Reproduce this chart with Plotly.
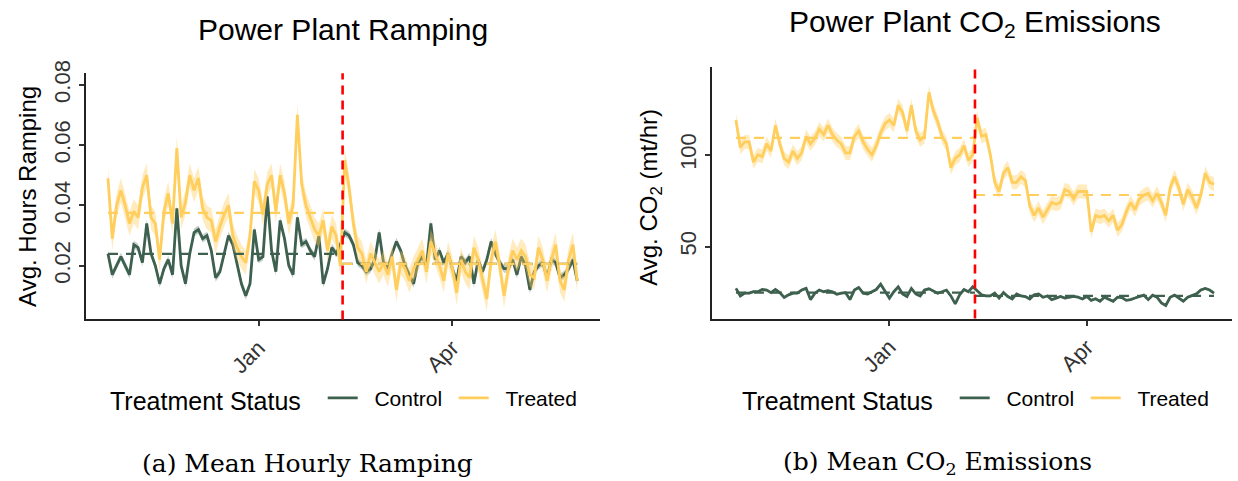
import pandas as pd
import plotly.graph_objects as go

# ---------------- data (2-day steps) ----------------
START_DATE = "2018-10-23"
N_POINTS = 110
TREATMENT_DATE = "2019-02-09"

ramp_treated = [
    0.049, 0.029, 0.040, 0.045, 0.040, 0.034, 0.038, 0.036, 0.046, 0.050,
    0.036, 0.034, 0.022, 0.038, 0.044, 0.034, 0.059, 0.036, 0.041, 0.050,
    0.045, 0.049, 0.039, 0.036, 0.035, 0.028, 0.033, 0.037, 0.040, 0.030,
    0.026, 0.023, 0.021, 0.030, 0.048, 0.045, 0.037, 0.047, 0.050, 0.038,
    0.050, 0.044, 0.034, 0.040, 0.070, 0.047, 0.040, 0.036, 0.032, 0.030,
    0.035, 0.025, 0.033, 0.030, 0.020, 0.055, 0.046, 0.034, 0.026, 0.024,
    0.018, 0.024, 0.021, 0.018, 0.021, 0.017, 0.023, 0.012, 0.021, 0.019,
    0.015, 0.019, 0.022, 0.025, 0.018, 0.028, 0.024, 0.020, 0.015, 0.024,
    0.019, 0.011, 0.022, 0.018, 0.016, 0.026, 0.022, 0.015, 0.009, 0.022,
    0.028, 0.020, 0.010, 0.019, 0.025, 0.022, 0.025, 0.023, 0.017, 0.016,
    0.026, 0.022, 0.015, 0.022, 0.027, 0.015, 0.012, 0.022, 0.027, 0.015,
]
ramp_control = [
    0.024, 0.017, 0.020, 0.023, 0.020, 0.017, 0.027, 0.026, 0.021, 0.034,
    0.024, 0.020, 0.014, 0.019, 0.022, 0.017, 0.039, 0.020, 0.014, 0.024,
    0.031, 0.032, 0.029, 0.030, 0.025, 0.016, 0.018, 0.024, 0.030, 0.027,
    0.020, 0.014, 0.010, 0.014, 0.032, 0.022, 0.023, 0.043, 0.025, 0.018,
    0.035, 0.029, 0.020, 0.017, 0.036, 0.027, 0.028, 0.025, 0.023, 0.030,
    0.014, 0.019, 0.026, 0.024, 0.027, 0.031, 0.030, 0.027, 0.021, 0.020,
    0.018, 0.019, 0.022, 0.031, 0.021, 0.019, 0.024, 0.028, 0.025, 0.020,
    0.017, 0.014, 0.021, 0.023, 0.020, 0.034, 0.022, 0.025, 0.021, 0.024,
    0.019, 0.015, 0.023, 0.021, 0.023, 0.014, 0.022, 0.018, 0.022, 0.028,
    0.024, 0.021, 0.019, 0.019, 0.022, 0.017, 0.023, 0.020, 0.012, 0.018,
    0.020, 0.021, 0.016, 0.022, 0.021, 0.016, 0.017, 0.019, 0.022, 0.015,
]
co2_treated = [
    119, 104, 107, 107, 96, 100, 99, 106, 102, 116,
    106, 98, 96, 102, 98, 101, 110, 106, 109, 114,
    111, 116, 111, 108, 106, 101, 101, 110, 113, 107,
    103, 100, 105, 112, 117, 119, 116, 127, 123, 113,
    127, 113, 108, 110, 134, 124, 118, 110, 106, 93,
    98, 100, 105, 97, 100, 120, 110, 111, 100, 85,
    80, 90, 93, 85, 85, 88, 86, 72, 67, 71,
    66, 70, 74, 73, 74, 81, 80, 76, 80, 80,
    80, 58, 67, 66, 67, 64, 67, 59, 62, 69,
    74, 70, 76, 78, 79, 75, 79, 74, 67, 82,
    88, 82, 73, 81, 77, 71, 78, 90, 85, 84,
]
co2_control = [
    27.2, 23.1, 24.6, 24.6, 25.4, 25.4, 26.6, 26.3, 24.9, 26.6,
    24.9, 22.3, 23.7, 24.6, 24.6, 26.3, 27.2, 21.1, 24.6, 26.3,
    25.4, 25.9, 25.4, 24.0, 24.6, 24.9, 21.1, 26.3, 27.7, 24.6,
    24.2, 25.4, 26.6, 29.5, 25.4, 21.9, 25.4, 28.1, 24.2, 22.8,
    27.2, 24.2, 23.1, 26.3, 27.0, 25.9, 24.6, 25.4, 26.3, 23.1,
    18.8, 23.7, 26.6, 25.4, 28.1, 25.9, 23.7, 23.1, 23.1, 24.6,
    21.9, 24.9, 22.8, 21.4, 24.2, 23.1, 22.8, 21.4, 23.7, 24.2,
    22.4, 23.1, 21.1, 21.9, 22.8, 21.9, 22.4, 22.8, 22.4, 21.4,
    22.8, 20.7, 21.6, 20.2, 22.4, 21.4, 20.2, 22.4, 22.2, 20.7,
    21.1, 22.0, 22.8, 23.5, 21.1, 23.5, 22.4, 19.3, 17.9, 22.4,
    23.5, 21.7, 20.2, 22.4, 23.5, 24.2, 26.3, 27.2, 26.3, 24.6,
]
# standard-error half widths of the ribbons
ramp_se = {"Control": 0.0013, "Treated": 0.0040}
co2_se = {"Control": 0.7, "Treated": 3.8}
# pre / post period means (dashed lines)
ramp_means = {"Control": (0.0239, 0.0206), "Treated": (0.0375, 0.0206)}
co2_means = {"Control": (24.9, 23.1), "Treated": (109.2, 78.1)}

x_tick_vals = ["2019-01-01", "2019-04-01"]
x_tick_text = ["Jan", "Apr"]
ramp_ticks = [0.02, 0.04, 0.06, 0.08]
co2_ticks = [50, 100]

# ---------------- styles ----------------
COL = {"Control": "#3E604E", "Treated": "#FFCE5C"}
BAND = {"Control": "rgba(62,96,78,0.30)", "Treated": "rgba(255,206,92,0.40)"}
SANS = "Liberation Sans, Arial, sans-serif"
SERIF = "DejaVu Serif, serif"
W, H = 1238, 481
PAD = "\u00a0\u00a0"

dates = pd.date_range(START_DATE, periods=N_POINTS, freq="2D")
end_date = dates[-1]

fig = go.Figure()


def add_panel(series, se, means, xa, ya, legend):
    for name in ["Control", "Treated"]:
        vals = series[name]
        up = [v + se[name] for v in vals]
        lo = [v - se[name] for v in vals]
        fig.add_trace(go.Scatter(
            x=list(dates) + list(dates[::-1]), y=up + lo[::-1],
            fill="toself", fillcolor=BAND[name], line=dict(width=0),
            showlegend=False, hoverinfo="skip", xaxis=xa, yaxis=ya))
        fig.add_trace(go.Scatter(
            x=dates, y=vals, mode="lines", name=PAD + name,
            line=dict(color=COL[name], width=2.8),
            legend=legend, xaxis=xa, yaxis=ya))
    for name in ["Control", "Treated"]:
        pre, post = means[name]
        fig.add_trace(go.Scatter(
            x=[dates[0], pd.Timestamp(TREATMENT_DATE)], y=[pre, pre], mode="lines",
            line=dict(color=COL[name], width=2.2, dash="10px,8px"),
            showlegend=False, hoverinfo="skip", xaxis=xa, yaxis=ya))
        fig.add_trace(go.Scatter(
            x=[pd.Timestamp(TREATMENT_DATE), end_date], y=[post, post], mode="lines",
            line=dict(color=COL[name], width=2.2, dash="10px,8px"),
            showlegend=False, hoverinfo="skip", xaxis=xa, yaxis=ya))


add_panel({"Control": ramp_control, "Treated": ramp_treated}, ramp_se, ramp_means,
          "x", "y", "legend")
add_panel({"Control": co2_control, "Treated": co2_treated}, co2_se, co2_means,
          "x2", "y2", "legend2")

for xr in ["x", "x2"]:
    fig.add_shape(type="line", xref=xr, yref=("y domain" if xr == "x" else "y2 domain"),
                  x0=TREATMENT_DATE, x1=TREATMENT_DATE, y0=0, y1=1,
                  line=dict(color="#FF0000", width=2.6, dash="9px,6px"))

axis_common = dict(showline=True, linecolor="#222", linewidth=2, ticks="outside",
                   ticklen=5, tickwidth=2, tickcolor="#333", showgrid=False,
                   zeroline=False, tickfont=dict(family=SANS, size=22, color="#333"))

legend_common = dict(orientation="h", y=1 - 397 / H, xanchor="left", yanchor="middle",
                     title=dict(text="Treatment Status&nbsp;&nbsp;",
                                font=dict(family=SANS, size=25, color="#000")),
                     font=dict(family=SANS, size=21, color="#000"),
                     bgcolor="rgba(0,0,0,0)", entrywidth=86, entrywidthmode="pixels")

fig.update_layout(
    width=W, height=H, margin=dict(l=0, r=0, t=0, b=0),
    paper_bgcolor="white", plot_bgcolor="white",
    xaxis=dict(domain=[86 / W, 600 / W], anchor="y", type="date",
               range=["2018-10-12 19:00", "2019-06-08 14:00"],
               tickvals=x_tick_vals, ticktext=x_tick_text, tickangle=-45, **axis_common),
    yaxis=dict(domain=[1 - 315 / H, 1 - 62 / H], anchor="x",
               range=[0.00216, 0.0838], tickvals=ramp_ticks,
               ticktext=[f"{v:.2f}" for v in ramp_ticks], tickangle=-90, **axis_common),
    xaxis2=dict(domain=[712 / W, 1232 / W], anchor="y2", type="date",
                range=["2018-10-12 02:00", "2019-06-06 05:00"],
                tickvals=x_tick_vals, ticktext=x_tick_text, tickangle=-45, **axis_common),
    yaxis2=dict(domain=[1 - 314 / H, 1 - 55 / H], anchor="x2",
                range=[10.8, 148.1], tickvals=co2_ticks,
                ticktext=[str(v) for v in co2_ticks], tickangle=-90, **axis_common),
    legend=dict(x=108 / W, **legend_common),
    legend2=dict(x=740 / W, **legend_common),
    showlegend=True,
)

ann = [
    dict(text="Power Plant Ramping", x=343 / W, y=1 - 17 / H, size=30, family=SANS, angle=0),
    dict(text="Power Plant CO<sub>2</sub> Emissions", x=975 / W, y=1 - 11 / H, size=30, family=SANS, angle=0),
    dict(text="Avg. Hours Ramping", x=28 / W, y=1 - 189 / H, size=24, family=SANS, angle=-90),
    dict(text="Avg. CO<sub>2</sub> (mt/hr)", x=651 / W, y=1 - 190 / H, size=24, family=SANS, angle=-90),
    dict(text="(a) Mean Hourly Ramping", x=307 / W, y=1 - 463 / H, size=25, family=SERIF, angle=0),
    dict(text="(b) Mean CO<sub>2</sub> Emissions", x=937 / W, y=1 - 463 / H, size=25, family=SERIF, angle=0),
]
for a in ann:
    fig.add_annotation(text=a["text"], x=a["x"], y=a["y"], xref="paper", yref="paper",
                       xanchor="center", yanchor="middle", showarrow=False, textangle=a["angle"],
                       font=dict(family=a["family"], size=a["size"], color="#000"))

fig.write_html("out.html")
